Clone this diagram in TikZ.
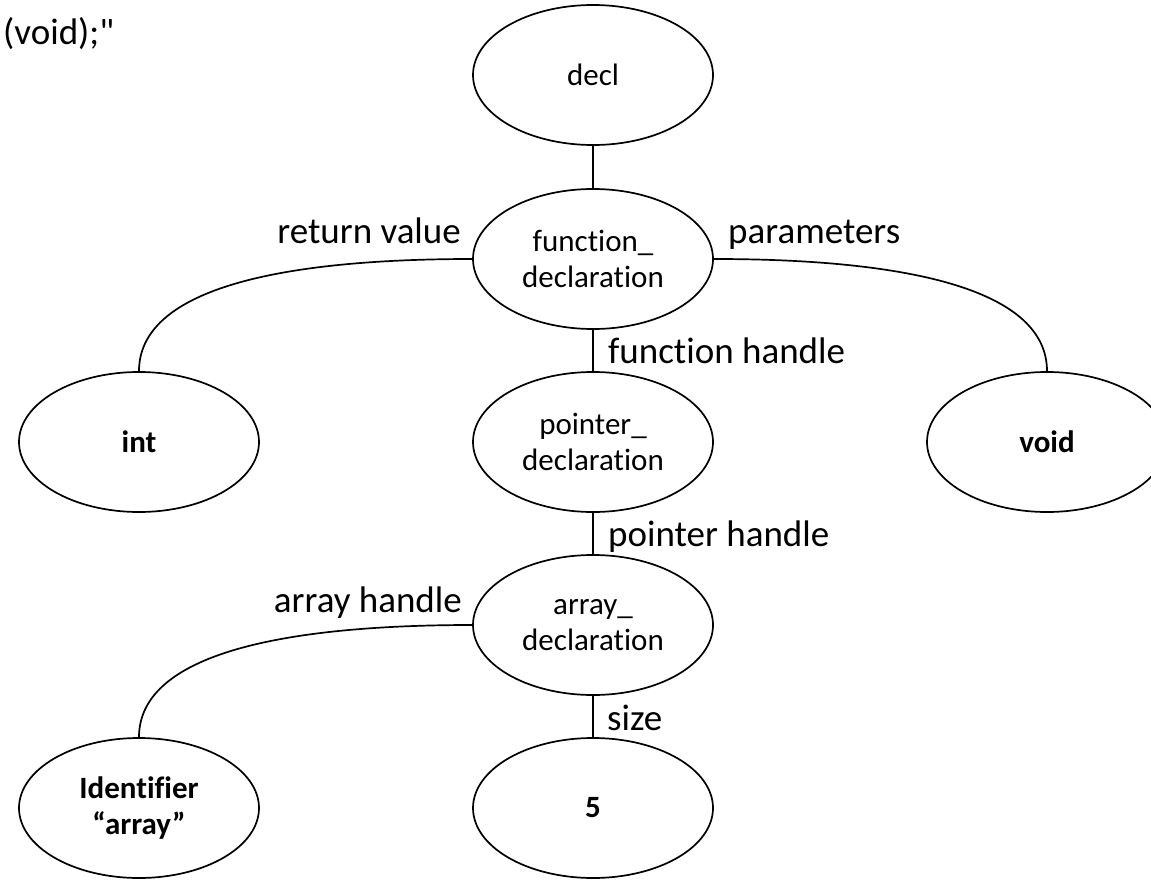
\documentclass[tikz,border=0pt]{standalone}
\usepackage{fontspec}
\setmainfont{Carlito}[Ligatures={NoCommon}]
\newfontfamily\plainfont{Carlito}[Ligatures={NoCommon}]
\usetikzlibrary{shapes.geometric}
\tikzset{
  tnode/.style={draw=black, line width=1.7pt, ellipse, minimum width=240pt, minimum height=140pt, inner sep=0pt, align=center, font=\fontsize{31}{36}\selectfont},
  bnode/.style={tnode, font=\fontsize{31}{36}\selectfont\bfseries},
  elabel/.style={inner sep=0pt, font=\fontsize{37}{44}\selectfont},
  conn/.style={line width=1.7pt, draw=black},
}
\begin{document}
\begin{tikzpicture}[x=1pt, y=-1pt]
\clip (0,0) rectangle (1151,880);
\fill[white] (0,0) rectangle (1151,880);

\node[tnode] (decl) at (593,75) {decl};
\node[tnode] (func) at (593,259) {function\_\\declaration};
\node[bnode] (int) at (139,442) {int};
\node[tnode] (ptr) at (593,442) {pointer\_\\declaration};
\node[bnode] (void) at (1047,442) {void};
\node[tnode] (arr) at (593,625) {array\_\\declaration};
\node[bnode] (ident) at (139,808) {Identifier\\“array”};
\node[bnode] (five) at (593,808) {5};

\draw[conn] (decl.south) -- (func.north);
\draw[conn] (func.south) -- (ptr.north);
\draw[conn] (ptr.south) -- (arr.north);
\draw[conn] (arr.south) -- (five.north);
\draw[conn] (func.west) .. controls +(-200,0) and +(0,-80) .. (int.north);
\draw[conn] (func.east) .. controls +(200,0) and +(0,-80) .. (void.north);
\draw[conn] (arr.west) .. controls +(-200,0) and +(0,-80) .. (ident.north);

\node[elabel, anchor=base west] (code) at (3,45) {\plainfont (void);"};
\node[elabel, anchor=base east] (lret) at (461,243) {return value};
\node[elabel, anchor=base west] (lpar) at (728,243) {parameters};
\node[elabel, anchor=base west] (lfun) at (608,363) {function handle};
\node[elabel, anchor=base west] (lptr) at (608,546) {pointer handle};
\node[elabel, anchor=base east] (larr) at (462,612) {array handle};
\node[elabel, anchor=base west] (lsize) at (607,730) {size};
\end{tikzpicture}
\end{document}
